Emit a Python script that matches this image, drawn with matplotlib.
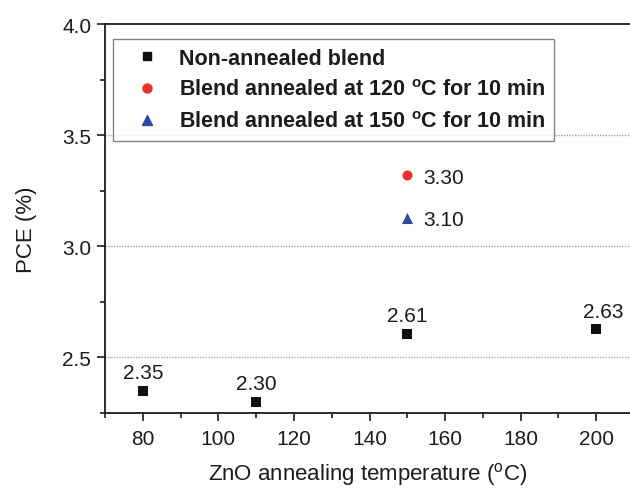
import matplotlib
matplotlib.use("Agg")
import matplotlib.pyplot as plt
from matplotlib.ticker import MultipleLocator
from matplotlib.lines import Line2D

plt.rcParams['font.family'] = ['Liberation Sans', 'DejaVu Sans']
plt.rcParams['mathtext.fontset'] = 'custom'
plt.rcParams['mathtext.rm'] = 'Liberation Sans'
plt.rcParams['mathtext.bf'] = 'Liberation Sans:bold'

# Non-annealed blend
temps = [80, 110, 150, 200]
pce = [2.35, 2.30, 2.607, 2.628]
pce_labels = ["2.35", "2.30", "2.61", "2.63"]

# annealed blends (ZnO at 150 C)
temp_120 = [150]
pce_120 = [3.32]
label_120 = ["3.30"]
temp_150 = [150]
pce_150 = [3.13]
label_150 = ["3.10"]

legend_names = ["Non-annealed blend",
                "Blend annealed at 120 $^{\\mathbf{o}}$C for 10 min",
                "Blend annealed at 150 $^{\\mathbf{o}}$C for 10 min"]

red = "#e8302a"
blue = "#2c4a9e"
ink = "#1c1c1c"

fig = plt.figure(figsize=(6.3, 4.89), dpi=100)
# axes runs a little past the right edge, like the cropped original
ax = fig.add_axes([0.1667, 0.1534, 0.8397, 0.7949])

ax.scatter(temps, pce, marker="s", s=42, color="#111111", linewidths=0, zorder=3)
ax.scatter(temp_120, pce_120, marker="o", s=52, color=red, linewidths=0, zorder=3)
ax.scatter(temp_150, pce_150, marker="^", s=64, color=blue, linewidths=0, zorder=3)

for x, y, t in zip(temps, pce, pce_labels):
    dx = 5 if t == "2.63" else 0  # last label sits a bit right in the original
    ax.annotate(t, (x, y), xytext=(dx, 9), textcoords="offset points",
                ha="center", va="baseline", fontsize=15, color=ink)
for x, y, t in zip(temp_120 + temp_150, pce_120 + pce_150, label_120 + label_150):
    ax.annotate(t, (x, y), xytext=(11.5, -5.4), textcoords="offset points",
                ha="left", va="baseline", fontsize=15, color=ink)

ax.set_xlim(70, 210)
ax.set_ylim(2.25, 4.0)
ax.set_xticks([80, 100, 120, 140, 160, 180, 200])
ax.xaxis.set_minor_locator(MultipleLocator(20, offset=10))
ax.yaxis.set_major_locator(MultipleLocator(0.5))
ax.yaxis.set_minor_locator(MultipleLocator(0.25))
ax.tick_params(which="major", direction="out", length=6, width=1.2,
               labelsize=15, colors=ink)
ax.tick_params(which="minor", direction="out", length=3.3, width=1.2, colors=ink)
ax.tick_params(axis="x", pad=5.5)
ax.tick_params(axis="y", pad=4)

for s in ax.spines.values():
    s.set_linewidth(1.3)
    s.set_color(ink)

for g in [2.5, 3.0, 3.5]:
    ax.axhline(g, color="#9aa3cf", linestyle=(0, (1, 1)), linewidth=1.0, zorder=1)

ax.set_xlabel("ZnO annealing temperature ($^{\\mathregular{o}}$C)", fontsize=16, color=ink)
ax.set_ylabel("PCE (%)", fontsize=16, color=ink)
ax.xaxis.set_label_coords(0.497, -0.122)
ax.yaxis.set_label_coords(-0.128, 0.473)

handles = [Line2D([], [], marker="s", linestyle="none", color="#111111", markersize=5.5),
           Line2D([], [], marker="o", linestyle="none", color=red, markersize=6.5),
           Line2D([], [], marker="^", linestyle="none", color=blue, markersize=7)]
leg = ax.legend(handles, legend_names, loc="upper left", bbox_to_anchor=(0.0146, 0.962),
                prop={"weight": "bold", "size": 15.5}, frameon=True, fancybox=False,
                handletextpad=0.3, borderpad=0.4, labelspacing=0.5,
                handlelength=2.36, borderaxespad=0)
leg.get_frame().set_edgecolor("#666666")
leg.get_frame().set_linewidth(1.0)
for txt in leg.get_texts():
    txt.set_color(ink)

fig.savefig("out.png", dpi=100)
